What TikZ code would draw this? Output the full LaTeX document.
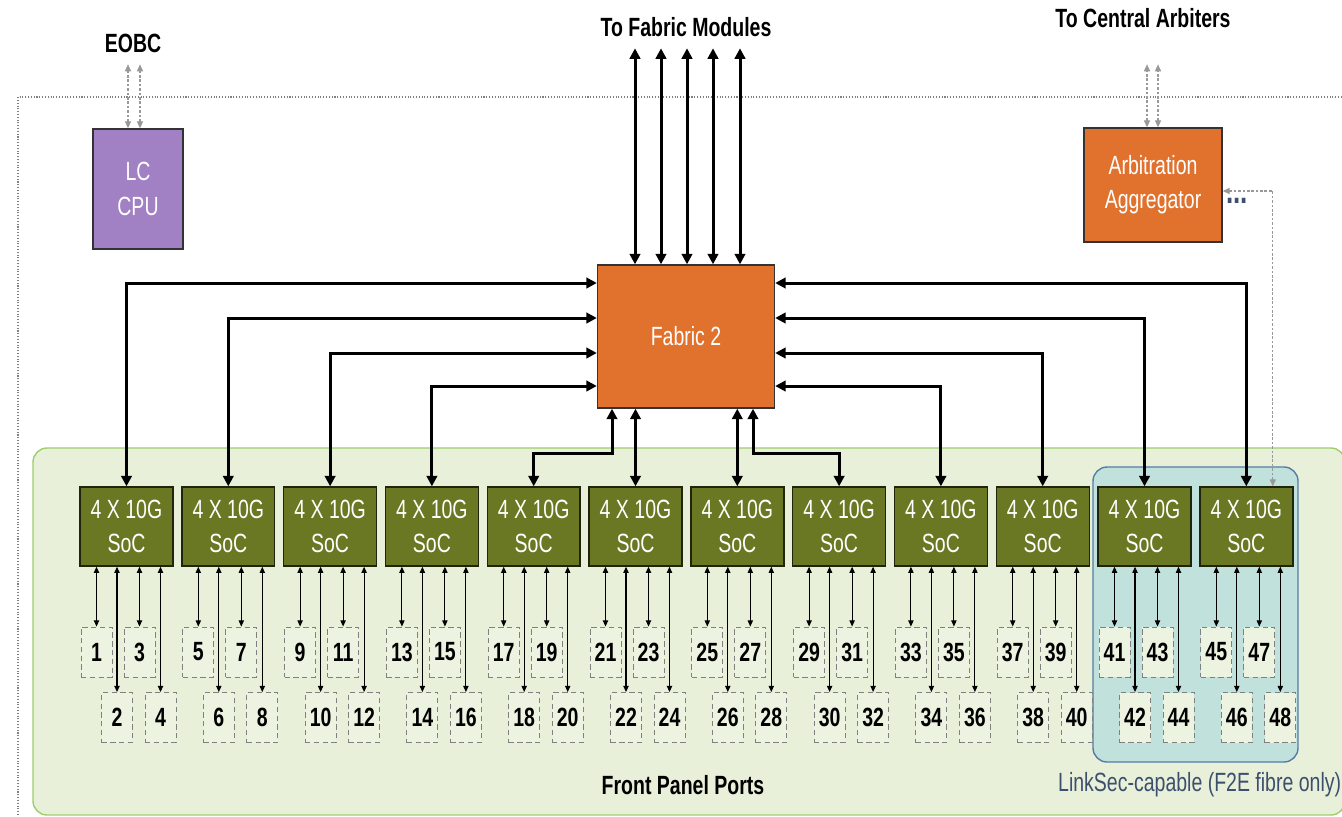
\documentclass[tikz,border=0pt]{standalone}
\usepackage{fontspec}
\setmainfont{Liberation Sans}[FakeStretch=0.74]
\usetikzlibrary{arrows.meta}
\definecolor{cpupurple}{RGB}{161,128,196}
\definecolor{fabor}{RGB}{224,114,46}
\definecolor{socolive}{RGB}{107,120,35}
\definecolor{panelgreen}{RGB}{233,240,217}
\definecolor{panelline}{RGB}{160,205,110}
\definecolor{secteal}{RGB}{193,225,221}
\definecolor{secline}{RGB}{85,125,165}
\definecolor{sectext}{RGB}{60,80,110}
\begin{document}
\begin{tikzpicture}[x=0.02cm,y=-0.02cm,font=\fontsize{15pt}{19.5pt}\selectfont,
  blk/.style={draw=black!80,line width=0.8pt,text=white,align=center,inner sep=0pt},
  soc/.style={blk,fill=socolive,draw=black!70!socolive,minimum width=1.86cm,minimum height=1.58cm},
  port/.style={draw=gray,densely dashed,line width=0.5pt,fill=panelgreen!80!white,minimum width=0.62cm,minimum height=1cm,inner sep=0pt,font=\fontsize{15pt}{18pt}\selectfont\bfseries},
  bus/.style={line width=1.7pt,{Triangle[length=6pt,width=6pt]}-{Triangle[length=6pt,width=6pt]}},
  link/.style={line width=0.6pt,{Triangle[length=3.5pt,width=3pt]}-{Triangle[length=3.5pt,width=3pt]}},
  ctl/.style={gray!80,dash pattern=on 1.5pt off 1pt,line width=0.7pt,{Triangle[length=4pt,width=3.5pt]}-{Triangle[length=4pt,width=3.5pt]}},
  lbl/.style={font=\fontsize{15pt}{19.5pt}\selectfont\bfseries}]
\useasboundingbox (0,0) rectangle (1342,816);
\clip (0,0) rectangle (1342,816);
% frame and panels
\draw[gray,densely dotted,line width=0.6pt] (18,860) |- (1400,97);
\draw[panelline,fill=panelgreen,line width=0.8pt,rounded corners=8pt] (33,448) rectangle (1345,815);
\draw[secline,fill=secteal,line width=0.8pt,rounded corners=8pt] (1093,467) rectangle (1298,762);
% labels
\node[lbl] (eobc) at (133,43) {EOBC};
\node[lbl] (tofm) at (686,27) {To Fabric Modules};
\node[lbl] (toca) at (1143,18) {To Central Arbiters};
\node[lbl] (fpp) at (683,785) {Front Panel Ports};
\node[anchor=west,text=sectext] (lsec) at (1052,785) {LinkSec-capable (F2E fibre only)};
% blocks
\node[blk,fill=cpupurple,minimum width=1.8cm,minimum height=2.4cm] (cpu) at (138,189) {LC\\CPU};
\node[blk,fill=fabor,minimum width=3.54cm,minimum height=2.86cm] (fab) at (686,336.5) {Fabric 2};
\node[blk,fill=fabor,minimum width=2.76cm,minimum height=2.28cm] (agg) at (1153,185) {Arbitration\\Aggregator};
\node[text=sectext,font=\fontsize{20pt}{20pt}\selectfont\bfseries] (dots) at (1237,201) {...};
% SoCs and front panel ports
\foreach \k in {1,...,12}{
  \pgfmathsetmacro\cx{126.5+101.8*(\k-1)}
  \node[soc] (soc\k) at (\cx,526.5) {4 X 10G\\SoC};
  \foreach \dx/\dy/\n in {-30/652/1,13/652/3,-9.5/717.5/2,34/717.5/4}{
    \pgfmathtruncatemacro\p{4*(\k-1)+\n}
    \node[port] (p\p) at ({\cx+(\dx)},\dy) {\p};
    \draw[link] (soc\k.south -| p\p) -- (p\p);
  }
}
% fabric links
\foreach \k/\dy in {1/-53.5,2/-18.5,3/16.5,4/49.5}
  \draw[bus] (soc\k.north) |- ([shift={(0,\dy)}]fab.west);
\foreach \k/\dy in {12/-53.5,11/-18.5,10/16.5,9/49.5}
  \draw[bus] (soc\k.north) |- ([shift={(0,\dy)}]fab.east);
\draw[bus] ([shift={(-74,0)}]fab.south) -- ++(0,45) -| (soc5.north);
\draw[bus] (soc6.north) -- (soc6.north |- fab.south);
\draw[bus] (soc7.north) -- (soc7.north |- fab.south);
\draw[bus] ([shift={(67,0)}]fab.south) -- ++(0,45) -| (soc8.north);
\foreach \dx in {-51,-25,1,27,54}
  \draw[bus] ([shift={(\dx,0)}]fab.north) -- ++(0,-216);
% control paths
\foreach \dx in {-10,2}
  \draw[ctl] ([shift={(\dx,0)}]cpu.north) -- ++(0,-64);
\foreach \dx in {-6,5}
  \draw[ctl] ([shift={(\dx,0)}]agg.north) -- ++(0,-63);
\draw[ctl] ([shift={(26.5,0)}]soc12.north) |- ([shift={(0,6)}]agg.east);
\end{tikzpicture}
\end{document}
